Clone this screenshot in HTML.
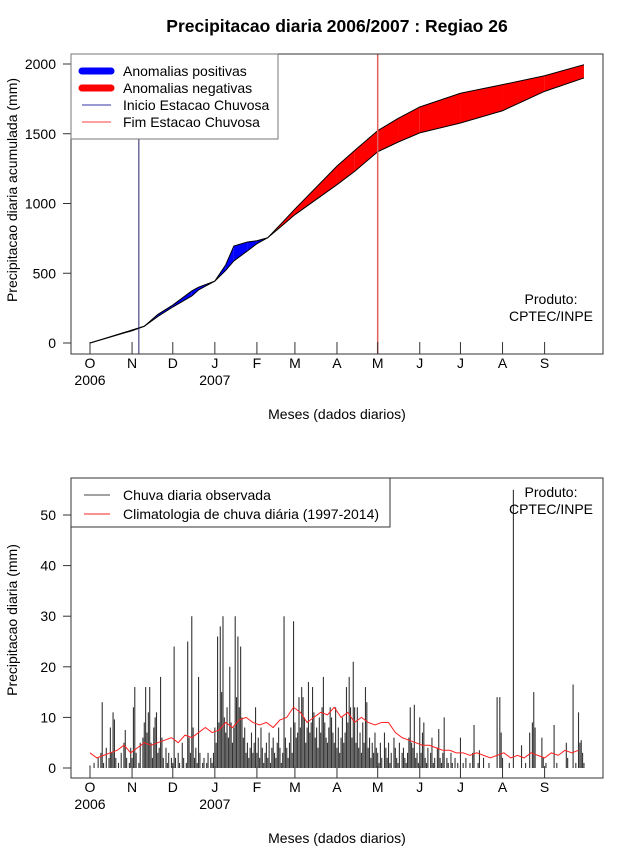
<!DOCTYPE html>
<html><head><meta charset="utf-8"><style>
body{margin:0;background:#fff;}
svg{display:block;font-family:"Liberation Sans",sans-serif;}
</style></head><body>
<svg id="chart" width="640" height="850" viewBox="0 0 640 850">
<text x="337" y="32" text-anchor="middle" font-size="17.5" font-weight="bold">Precipitacao diaria 2006/2007 : Regiao 26</text>
<g id="top"></g>
<g id="bot"></g>
</svg>
<script>
// ---- top panel data (cumulative mm) ----
const cumDays = [0,31,40,50,61,75,80,92,100,106,116,123,131,142,151,182,195,212,227,243,273,304,335,364];
const cumObs  = [0,88,120,205,272,373,400,444,560,695,724,733,755,845,920,1135,1230,1371,1440,1506,1577,1665,1804,1900];
const cumClim = [0,93,120,190,258,337,380,444,520,588,660,712,755,867,960,1268,1380,1522,1610,1692,1790,1852,1916,1995];
const topYTicks = [0,500,1000,1500,2000];
const monthLabels = ["O","N","D","J","F","M","A","M","J","J","A","S"];
const monthDays = [0,31,61,92,123,151,182,212,243,273,304,335];
const startDay = 36, endDay = 212;
// ---- bottom panel data (daily mm) ----
const obsOct=[0.5,0,0,1,0,0,2,0,3,13,1,0,4,0,2,8,3,11,9.6,2,0,1,0,3,0,5,7.5,2,0,1,4];
const obsNov=[2,12,16,3,0,1,5,0,6,9,16,7,11,16,5,2,8,10,11,3,4,18,6,2,0,4,1,3,0,2];
const obsDec=[1,24,2,0,3,1,0,5,2,0,1,25,6,3,30,8,2,4,1,18,3,0,1,2,0,1,3,0,2,1,3];
const obsJan=[8,5,26,9,28,15,30,10,7,12,6,20,9,5,8,30,14,26,12,24,10,6,8,3,5,2,4,7,3,5,12];
const obsFeb=[3,6,2,8,4,1,3,5,2,7,1,4,6,3,2,5,8,4,1,3,30,6,4,2,5,8,3,29];
const obsMar=[9,6,7,14,8,16,14,10,5,8,17,7,9,16,11,6,8,4,10,7,12,18,9,6,5,8,12,10,7,5,12];
const obsApr=[4,8,3,6,10,5,7,16,9,18,12,6,21,12,5,12,4,7,3,9,5,16,13,4,6,2,5,3,7,4];
const obsMay=[3,1,5,2,0,7,4,2,5,1,3,0,6,4,2,1,5,0,3,4,2,1,3,6,12,5,4,12.5,2,3,1];
const obsJun=[10,3,7,9,2,1,4,0,3,6,1,2,0,4,7.7,2,1,3,10,0,2,1,0,3,1,0,2,0,1,0];
const obsJul=[6,0,1,0,2,0,0,1,0,3,8.5,0,0,1,3.5,0,0,2,0,0,0,1,0,0,0,0,0,14,0,14,7];
const obsAug=[2,0,0,0,0,1,0,0,55,0,0,0,0,0,4.5,0,0,1,0,0,7,0,9,15,8,0,0,0,0,6,2];
const obsSep=[0,1,0,0,0,0,0,8.5,0,1,0,0,0,0,0,0,5,2,0,0,0,16.5,0,1,0,11,5,5.5,3,1];
const obsDaily=[].concat(obsOct,obsNov,obsDec,obsJan,obsFeb,obsMar,obsApr,obsMay,obsJun,obsJul,obsAug,obsSep);
const climStep=5;
const clim5=[3,2,2.5,3,3.5,4.5,3,4,5,4.5,5,5.5,6,5,6.5,6,7,8,7,7.5,9,8,9.5,10,9,8.5,9,8,9.5,10,12,11,9,10,11,10.5,12,10,11,9,10,9,8.5,9,9,7,6,5.5,5,4.5,4.5,4,3.5,3.5,3,3,2.5,3,2.5,2,2.5,3,2,2.5,2,3,2.5,2,3,2.5,3.5,3,3.5];
const botYTicks=[0,10,20,30,40,50];

const NS="http://www.w3.org/2000/svg";
function mk(tag,attrs,parent,txt){const e=document.createElementNS(NS,tag);for(const k in attrs)e.setAttribute(k,attrs[k]);if(txt!==undefined)e.textContent=txt;parent.appendChild(e);return e;}
const xd=d=>90+d*1.357;
const yT=v=>343-v*0.1395;
const yB=v=>768-v*5.06;

function axes(g,top,bottom,yfun,yticks,ytitle,ycenter,credY){
  let e=mk('rect',{x:71,y:top,width:532,height:bottom-top,fill:'none',stroke:'#333','stroke-width':1},g);
  
  yticks.forEach(v=>{
    let t=mk('line',{x1:63,x2:71,y1:yfun(v),y2:yfun(v),stroke:'#333'},g);
    
    let l=mk('text',{x:56,y:yfun(v)+5,'text-anchor':'end','font-size':14},g,String(v));
    
  });
  monthDays.forEach((d,i)=>{
    let t=mk('line',{x1:xd(d),x2:xd(d),y1:bottom-12,y2:bottom,stroke:'#333'},g);
    
    let l=mk('text',{x:xd(d),y:bottom+14,'text-anchor':'middle','font-size':14},g,monthLabels[i]);
    
  });
  [[0,'2006'],[92,'2007']].forEach(([d,s])=>{
    let l=mk('text',{x:xd(d),y:bottom+31,'text-anchor':'middle','font-size':14},g,s);
    
  });
  let xt=mk('text',{x:337,y:bottom+65,'text-anchor':'middle','font-size':14},g,'Meses (dados diarios)');
  
  let yt=mk('text',{x:0,y:0,'text-anchor':'middle','font-size':14,transform:`translate(17,${ycenter}) rotate(-90)`},g,ytitle);
  
  let p1=mk('text',{x:551,y:credY,'text-anchor':'middle','font-size':14},g,'Produto:');
  
  let p2=mk('text',{x:551,y:credY+17,'text-anchor':'middle','font-size':14},g,'CPTEC/INPE');
  
}

// ---- top panel ----
const gt=document.getElementById('top');
for(let i=0;i<cumDays.length-1;i++){
  const x0=xd(cumDays[i]),x1=xd(cumDays[i+1]);
  const a0=cumObs[i]-cumClim[i],a1=cumObs[i+1]-cumClim[i+1];
  if(a0*a1<0){const f=a0/(a0-a1);const dm=cumDays[i]+f*(cumDays[i+1]-cumDays[i]);const vm=cumObs[i]+f*(cumObs[i+1]-cumObs[i]);
    const segs=[[[x0,yT(cumObs[i])],[xd(dm),yT(vm)],[x0,yT(cumClim[i])],a0],[[xd(dm),yT(vm)],[x1,yT(cumObs[i+1])],[x1,yT(cumClim[i+1])],a1]];
    segs.forEach(s=>{const p=mk('polygon',{points:s.slice(0,3).map(q=>q.join(',')).join(' '),fill:s[3]>0?'#0000ff':'#ff0000'},gt);
      });
  } else {
    const pts=[[x0,yT(cumObs[i])],[x1,yT(cumObs[i+1])],[x1,yT(cumClim[i+1])],[x0,yT(cumClim[i])]];
    const p=mk('polygon',{points:pts.map(q=>q.join(',')).join(' '),fill:(a0+a1)>0?'#0000ff':'#ff0000'},gt);
    
  }
}
let lo=mk('polyline',{points:cumDays.map((d,i)=>xd(d)+','+yT(cumObs[i])).join(' '),fill:'none',stroke:'#000','stroke-width':1},gt);

let lc=mk('polyline',{points:cumDays.map((d,i)=>xd(d)+','+yT(cumClim[i])).join(' '),fill:'none',stroke:'#000','stroke-width':1},gt);

let vs=mk('line',{x1:xd(startDay),x2:xd(startDay),y1:54,y2:354,stroke:'#222266','stroke-width':1},gt);

let ve=mk('line',{x1:xd(endDay),x2:xd(endDay),y1:54,y2:354,stroke:'#e06060','stroke-width':1.5},gt);

axes(gt,54,354,yT,topYTicks,'Precipitacao diaria acumulada (mm)',190,304);
let lg=mk('g',{},gt);
mk('rect',{x:71,y:54,width:207,height:85,fill:'#fff',stroke:'#777'},lg);
[['#0000ff',7,'Anomalias positivas',71],['#ff0000',7,'Anomalias negativas',88],['#3333aa',1,'Inicio Estacao Chuvosa',105],['#ff4040',1,'Fim Estacao Chuvosa',122]].forEach(r=>{
  let e=mk('line',{x1:82,x2:111,y1:r[3],y2:r[3],stroke:r[0],'stroke-width':r[1],'stroke-linecap':r[1]>2?'round':'butt'},lg);
  
  let t=mk('text',{x:123,y:r[3]+5,'font-size':14},lg,r[2]);
  
});

// ---- bottom panel ----
const gb=document.getElementById('bot');
obsDaily.forEach((v,d)=>{
  if(v<=0)return;
  let b=mk('line',{x1:xd(d),x2:xd(d),y1:yB(0),y2:yB(v),stroke:'#333','stroke-width':1.1},gb);
  
});
let cl=mk('polyline',{points:clim5.map((v,i)=>xd(i*climStep)+','+yB(v)).join(' '),fill:'none',stroke:'#ff2020','stroke-width':1},gb);

axes(gb,478,778,yB,botYTicks,'Precipitacao diaria (mm)',620,497);
let lg2=mk('g',{},gb);
mk('rect',{x:71,y:478,width:319,height:49,fill:'#fff',stroke:'#333'},lg2);
[['#444','Chuva diaria observada',495],['#ff2020','Climatologia de chuva diária (1997-2014)',514]].forEach(r=>{
  let e=mk('line',{x1:84,x2:110,y1:r[2],y2:r[2],stroke:r[0],'stroke-width':1},lg2);
  
  let t=mk('text',{x:123,y:r[2]+5,'font-size':14},lg2,r[1]);
  
});
</script>
</body></html>
